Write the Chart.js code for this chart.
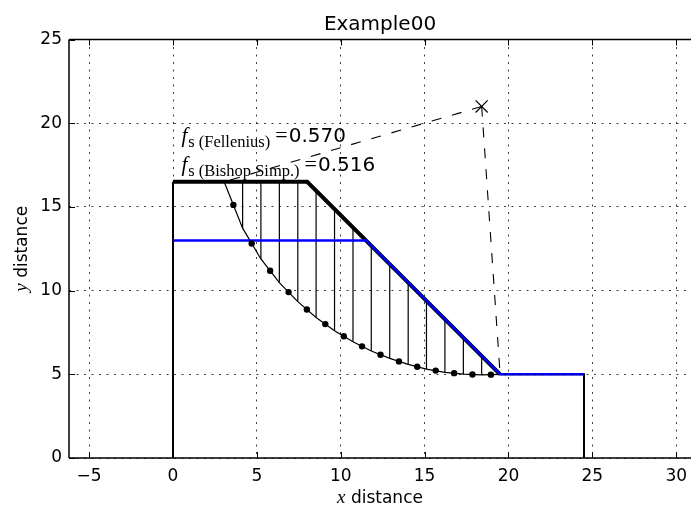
<!DOCTYPE html>
<html>
<head>
<meta charset="utf-8">
<script src="https://cdn.jsdelivr.net/npm/chart.js@4.4.1/dist/chart.umd.min.js"></script>
<style>
  html, body { margin: 0; padding: 0; background: #fff; }
</style>
</head>
<body>
<canvas id="slopeChart" width="691" height="508"></canvas>
<script>
// axis ticks
const xTicks = [-5, 0, 5, 10, 15, 20, 25, 30];
const yTicks = [0, 5, 10, 15, 20, 25];

// ground surface: crest and slope face (thick), side walls and toe (thin)
const crestX = [0, 8, 19.5];
const crestY = [16.5, 16.5, 5];
const leftWallX = [0, 0];
const leftWallY = [0, 16.5];
const toeX = [19.5, 24.5, 24.5];
const toeY = [5, 5, 0];

// water table
const waterX = [0, 11.5, 19.5, 24.5];
const waterY = [13, 13, 5, 5];

// slip circle centre and the two ends of the slip surface
const centerX = [18.4];
const centerY = [21.0];
const slipEndX = [3.05, 19.5];
const slipEndY = [16.5, 5.0];

// slice boundaries: x, ground level, slip surface level
const sliceX = [4.15, 5.24, 6.34, 7.44, 8.53, 9.63, 10.73, 11.82, 12.92, 14.02, 15.11, 16.21, 17.31, 18.40];
const sliceTop = [16.5, 16.5, 16.5, 16.5, 15.97, 14.87, 13.77, 12.68, 11.58, 10.48, 9.39, 8.29, 7.19, 6.10];
const sliceBase = [13.73, 11.89, 10.48, 9.34, 8.39, 7.60, 6.94, 6.39, 5.95, 5.59, 5.31, 5.12, 5.01, 4.97];

// slice base mid points
const baseMidX = [3.60, 4.69, 5.79, 6.89, 7.98, 9.08, 10.18, 11.27, 12.37, 13.47, 14.56, 15.66, 16.76, 17.85, 18.95];
const baseMidY = [15.12, 12.81, 11.19, 9.91, 8.87, 8.00, 7.27, 6.67, 6.17, 5.77, 5.45, 5.22, 5.07, 4.99, 4.98];

// factors of safety
const fsFellenius = 0.570;
const fsBishop = 0.516;

const pts = (xs, ys) => xs.map((x, i) => ({ x, y: ys[i] }));

// slip surface polyline through the slice boundaries
const slipLine = pts(
    [slipEndX[0], ...sliceX, slipEndX[1]],
    [slipEndY[0], ...sliceBase, slipEndY[1]]
);

// vertical slice lines, broken apart with null points
const sliceLines = [];
sliceX.forEach((x, i) => {
    sliceLines.push({ x, y: sliceBase[i] }, { x, y: sliceTop[i] }, { x, y: null });
});

// radii from the centre to both ends of the slip surface
const radii = [];
slipEndX.forEach((x, i) => {
    radii.push({ x: centerX[0], y: centerY[0] }, { x, y: slipEndY[i] }, { x, y: null });
});

const line = (data, color, width, extra) => Object.assign({
    data,
    showLine: true,
    borderColor: color,
    backgroundColor: color,
    borderWidth: width,
    pointRadius: 0,
    spanGaps: false,
    tension: 0
}, extra || {});

const minus = v => String(v).replace('-', '\u2212');

// frame, inward ticks, title, axis titles and the fs notes
const decorations = {
    id: 'decorations',
    afterDraw(chart) {
        const { ctx, chartArea: a, scales: { x, y } } = chart;
        const w = chart.width;
        ctx.save();

        // top, left and bottom edges; the right edge lies past the canvas
        ctx.strokeStyle = '#000';
        ctx.lineWidth = 1.5;
        ctx.beginPath();
        ctx.moveTo(a.left, a.top); ctx.lineTo(w, a.top);
        ctx.moveTo(a.left, a.top); ctx.lineTo(a.left, a.bottom);
        ctx.moveTo(a.left, a.bottom); ctx.lineTo(w, a.bottom);
        ctx.stroke();

        ctx.lineWidth = 1;
        ctx.beginPath();
        xTicks.forEach(v => {
            const px = Math.round(x.getPixelForValue(v)) + 0.5;
            ctx.moveTo(px, a.bottom); ctx.lineTo(px, a.bottom - 6);
            ctx.moveTo(px, a.top); ctx.lineTo(px, a.top + 6);
        });
        yTicks.forEach(v => {
            const py = Math.round(y.getPixelForValue(v)) + 0.5;
            ctx.moveTo(a.left, py); ctx.lineTo(a.left + 6, py);
        });
        ctx.stroke();

        ctx.fillStyle = '#000';
        ctx.textBaseline = 'alphabetic';

        // title
        ctx.textAlign = 'center';
        ctx.font = '20px "DejaVu Sans"';
        ctx.fillText('Example00', (a.left + a.right) / 2, 30);

        // axis titles: italic math symbol + plain text
        const axisTitle = (sym, cx, cy) => {
            ctx.font = 'italic 19px "Liberation Serif"';
            const w1 = ctx.measureText(sym).width;
            ctx.font = '17px "DejaVu Sans"';
            const w2 = ctx.measureText(' distance').width;
            const x0 = cx - (w1 + w2) / 2;
            ctx.textAlign = 'left';
            ctx.font = 'italic 19px "Liberation Serif"';
            ctx.fillText(sym, x0, cy);
            ctx.font = '17px "DejaVu Sans"';
            ctx.fillText(' distance', x0 + w1, cy);
        };
        axisTitle('x', (a.left + a.right) / 2, 503);
        ctx.save();
        ctx.translate(27, (a.top + a.bottom) / 2);
        ctx.rotate(-Math.PI / 2);
        axisTitle('y', 0, 0);
        ctx.restore();

        // f_s notes
        const note = (sub, value, dx, dy) => {
            let px = x.getPixelForValue(dx);
            const py = y.getPixelForValue(dy);
            ctx.textAlign = 'left';
            ctx.font = 'italic 21px "Liberation Serif"';
            ctx.fillText('f', px, py);
            px += ctx.measureText('f').width + 1;
            ctx.font = '16.5px "Liberation Serif"';
            ctx.fillText(sub, px, py + 5);
            px += ctx.measureText(sub).width + 5;
            ctx.font = '22px "Liberation Serif"';
            ctx.fillText('=', px, py);
            px += ctx.measureText('=').width + 1;
            ctx.font = '20px "DejaVu Sans"';
            ctx.fillText(value.toFixed(3), px, py);
        };
        note('s (Fellenius)', fsFellenius, 0.5, 18.9);
        note('s (Bishop Simp.)', fsBishop, 0.5, 17.15);

        ctx.restore();
    }
};

// first dataset is drawn on top
new Chart(document.getElementById('slopeChart'), {
    type: 'scatter',
    data: {
        datasets: [
            {
                data: pts(centerX, centerY),
                pointStyle: 'crossRot',
                pointRadius: 8.5,
                borderColor: '#000',
                borderWidth: 1.2,
                showLine: false
            },
            {
                data: pts(baseMidX, baseMidY),
                pointRadius: 3.2,
                backgroundColor: '#000',
                borderColor: '#000',
                borderWidth: 0,
                showLine: false
            },
            line(pts(waterX, waterY), '#0000ff', 2.5),
            line(pts(crestX, crestY), '#000', 4),
            line(pts(leftWallX, leftWallY), '#000', 2),
            line(pts(toeX, toeY), '#000', 2),
            line(slipLine, '#000', 1.2),
            line(sliceLines, '#000', 1.2),
            line(radii, '#000', 1.1, { borderDash: [10, 11] })
        ]
    },
    options: {
        responsive: false,
        animation: false,
        layout: { autoPadding: false, padding: { top: 39.5, right: 0, bottom: 0, left: 0 } },
        plugins: {
            legend: { display: false },
            title: { display: false },
            tooltip: { enabled: false }
        },
        scales: {
            x: {
                type: 'linear',
                min: -6.2,
                max: 30.88,
                afterBuildTicks: s => { s.ticks = xTicks.map(v => ({ value: v })); },
                afterFit: s => { s.height = 50; },
                grid: { color: 'rgba(0,0,0,0.75)', lineWidth: 1, drawTicks: false, z: 1 },
                border: { display: false, dash: [2, 5.5] },
                ticks: {
                    color: '#000',
                    padding: 0,
                    font: { family: 'DejaVu Sans', size: 17, lineHeight: 2.14 },
                    callback: minus
                }
            },
            y: {
                type: 'linear',
                min: 0,
                max: 25,
                afterBuildTicks: s => { s.ticks = yTicks.map(v => ({ value: v })); },
                afterFit: s => { s.width = 69; },
                grid: { color: 'rgba(0,0,0,0.75)', lineWidth: 1, drawTicks: false, z: 1 },
                border: { display: false, dash: [2, 5.5] },
                ticks: {
                    color: '#000',
                    padding: 7,
                    font: { family: 'DejaVu Sans', size: 17 },
                    callback: minus
                }
            }
        }
    },
    plugins: [decorations]
});
</script>
</body>
</html>
